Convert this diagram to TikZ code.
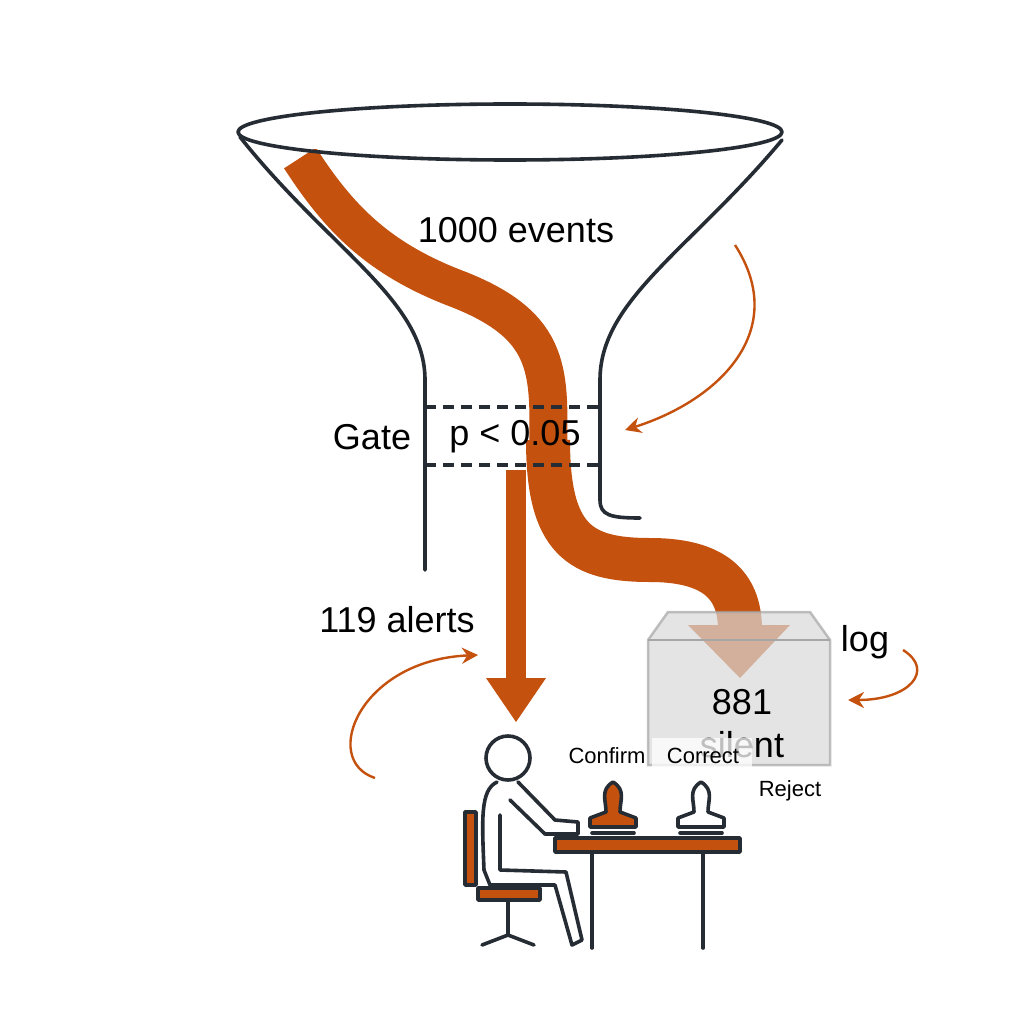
\documentclass[tikz,border=0pt]{standalone}
\usepackage{fontspec}
\setmainfont{Liberation Sans}
\usetikzlibrary{arrows.meta}
\definecolor{rust}{RGB}{196,82,14}
\definecolor{ink}{RGB}{38,44,52}
\tikzset{
	edge/.style={ink,line width=3.6pt,line cap=round,line join=round},
	flow/.style={rust,line width=44pt},
	note/.style={rust,line width=2.4pt,-{Stealth[length=16pt,width=16pt]}},
	big/.style={font=\fontsize{36}{40}\selectfont},
	small/.style={font=\fontsize{22}{25}\selectfont}
}
\begin{document}
\begin{tikzpicture}[x=1pt,y=-1pt]
	\useasboundingbox[fill=white] (0,0) rectangle (1024,1024);
	% stream
	\draw[flow,line width=38pt] (300,158) .. controls (340,220) and (380,260) .. (460,290) .. controls (560,330) and (548,380) .. (548,470);
	\draw[flow] (548,440) .. controls (548,540) and (580,560) .. (650,560) .. controls (720,560) and (740,590) .. (740,630);
	\fill[rust] (688,625) -- (790,625) -- (740,678) -- cycle;
	\fill[rust] (506,470) rectangle (526,680);
	\fill[rust] (486,678) -- (546,678) -- (516,722) -- cycle;
	% funnel
	\fill[white] (240,115) rectangle (782,149);
	\draw[edge] (510,132) ellipse (272 and 28);
	\draw[edge] (240,137) .. controls (330,250) and (425,300) .. (425,380) -- (425,570);
	\draw[edge] (782,140) .. controls (690,250) and (600,300) .. (600,380) -- (600,500) .. controls (600,515) and (610,518) .. (640,518);
	\draw[edge,dash pattern=on 11pt off 7pt,line cap=butt] (425,407) -- (600,407) (425,465) -- (600,465);
	\node[big] (gate) at (372,437) {Gate};
	\node[big] (pval) at (515,437) {p < 0.05};
	\node[big] (events) at (516,230) {1000 events};
	\node[big] (alerts) at (397,620) {119 alerts};
	% box
	\fill[gray!30,opacity=.7,draw=gray!70,line width=2.5pt] (648,640) -- (668,612) -- (810,612) -- (830,640) -- (830,765) -- (648,765) -- cycle;
	\draw[gray!70,line width=2.5pt] (648,640) -- (830,640);
	\node[big] (count) at (742,702) {881};
	\node[big] (silent) at (742,745) {silent};
	\fill[white,opacity=.75] (652,738) rectangle (752,768);
	\node[small] (confirm) at (607,756) {Confirm};
	\node[small] (correct) at (703,756) {Correct};
	\node[small] (reject) at (790,791) {Reject};
	\node[big] (log) at (865,642) {log};
	\draw[note] (735,245) .. controls (790,330) and (720,400) .. (625,430);
	\draw[note] (375,778) .. controls (320,760) and (360,660) .. (478,655);
	\draw[note] (903,650) .. controls (935,670) and (910,700) .. (848,700);
	% desk and chair
	\draw[edge,fill=rust] (555,838) rectangle (740,852);
	\draw[edge] (592,852) -- (592,948) (703,852) -- (703,948);
	\draw[edge,fill=rust] (465,812) rectangle (476,885);
	\draw[edge,fill=rust] (478,888) rectangle (540,900);
	\draw[edge] (508,900) -- (508,935) (482,945) -- (508,935) -- (534,945);
	% person
	\draw[edge] (508,758) circle (22);
	\draw[edge] (497,782) .. controls (480,790) and (482,820) .. (484,870) -- (490,885) -- (555,885) -- (572,945) -- (582,940) -- (566,872) -- (500,870) -- (500,815)
	(518,782) -- (555,820) -- (578,822) -- (578,834) -- (545,834) -- (510,800);
	% stamps
	\draw[edge,fill=rust] (590,827) -- (590,818) -- (606,812) .. controls (606,800) and (600,790) .. (613,782) .. controls (626,790) and (620,800) .. (620,812) -- (636,818) -- (636,827) -- cycle;
	\draw[edge] (592,833) -- (634,833);
	\draw[edge,fill=white] (678,827) -- (678,818) -- (694,812) .. controls (694,800) and (688,790) .. (701,782) .. controls (714,790) and (708,800) .. (708,812) -- (724,818) -- (724,827) -- cycle;
	\draw[edge] (680,833) -- (722,833);
\end{tikzpicture}
\end{document}
